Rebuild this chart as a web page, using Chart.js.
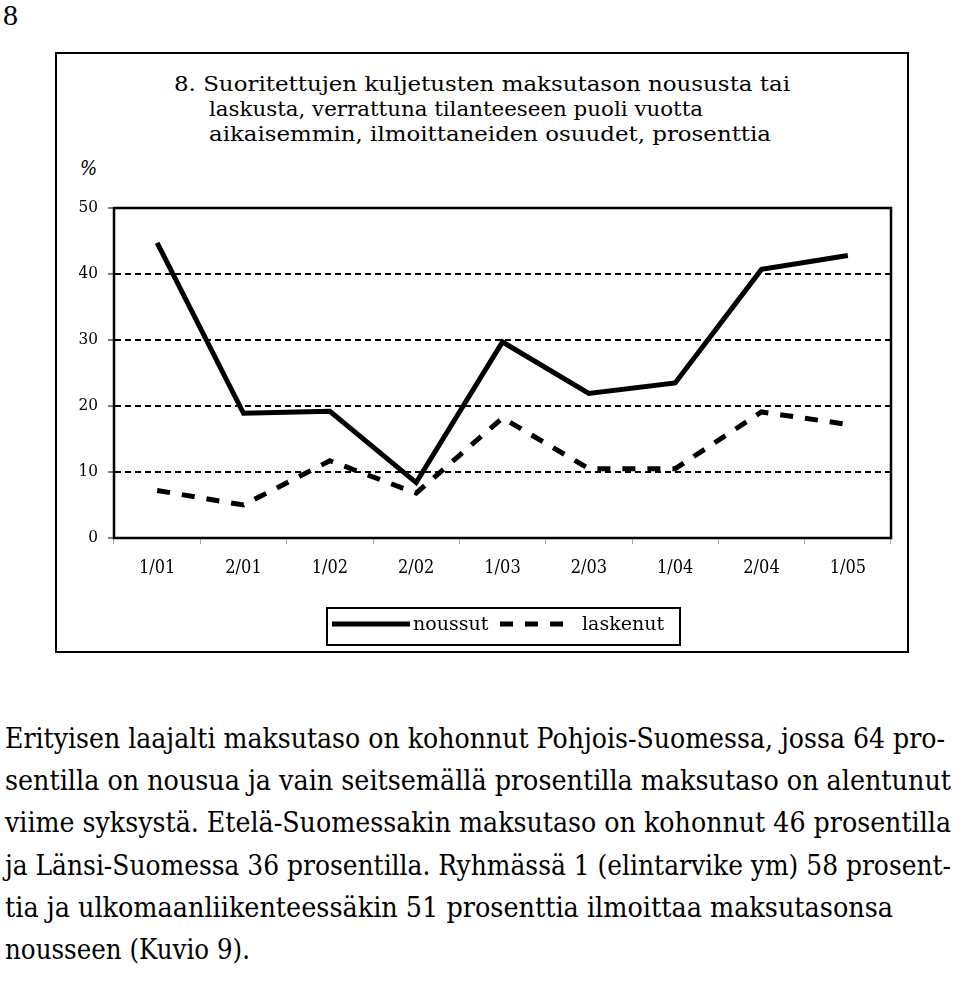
<!DOCTYPE html>
<html>
<head>
<meta charset="utf-8">
<script src="https://cdn.jsdelivr.net/npm/chart.js@4/dist/chart.umd.min.js"></script>
<style>
  html, body { margin: 0; padding: 0; background: #fff; }
  body { width: 960px; height: 982px; position: relative; overflow: hidden; font-family: "DejaVu Serif Condensed", "DejaVu Serif", serif; color: #000; }
  .abs { position: absolute; white-space: nowrap; }
  .fit { display: inline-block; transform-origin: 0 0; }
  #pageNo { left: 3px; top: 0; font: 30px/30px "Liberation Serif", serif; }
  #box { position: absolute; left: 55px; top: 52px; width: 850px; height: 597px; border: 2px solid #000; }
  .title { font-size: 21px; line-height: 25px; }
  #percent { left: 80px; top: 156px; font-size: 20px; line-height: 24px; font-style: italic; }
  #wrap { position: absolute; left: 0; top: 180px; width: 960px; height: 470px; }
  .para { left: 5px; font-size: 27px; line-height: 42px; }
</style>
</head>
<body>
<div id="pageNo" class="abs">8</div>
<div id="box"></div>

<div class="abs title" style="left:174px; top:72px"><span class="fit" data-w="616">8. Suoritettujen kuljetusten maksutason noususta tai</span></div>
<div class="abs title" style="left:209px; top:97px"><span class="fit" data-w="494">laskusta, verrattuna tilanteeseen puoli vuotta</span></div>
<div class="abs title" style="left:209px; top:122px"><span class="fit" data-w="562">aikaisemmin, ilmoittaneiden osuudet, prosenttia</span></div>
<div id="percent" class="abs">%</div>

<div id="wrap"><canvas id="chart" width="960" height="470"></canvas></div>

<div class="abs para" style="top:718px"><span class="fit" data-w="940">Erityisen laajalti maksutaso on kohonnut Pohjois-Suomessa, jossa 64 pro-</span></div>
<div class="abs para" style="top:760px"><span class="fit" data-w="946">sentilla on nousua ja vain seitsemällä prosentilla maksutaso on alentunut</span></div>
<div class="abs para" style="top:802px"><span class="fit" data-w="946">viime syksystä. Etelä-Suomessakin maksutaso on kohonnut 46 prosentilla</span></div>
<div class="abs para" style="top:845px"><span class="fit" data-w="946">ja Länsi-Suomessa 36 prosentilla. Ryhmässä 1 (elintarvike ym) 58 prosent-</span></div>
<div class="abs para" style="top:887px"><span class="fit" data-w="888">tia ja ulkomaanliikenteessäkin 51 prosenttia ilmoittaa maksutasonsa</span></div>
<div class="abs para" style="top:929px"><span class="fit" data-w="245">nousseen (Kuvio 9).</span></div>

<script>
const categories = ["1/01", "2/01", "1/02", "2/02", "1/03", "2/03", "1/04", "2/04", "1/05"];
const noussut = [44.7, 18.9, 19.2, 8.4, 29.7, 21.9, 23.5, 40.7, 42.8];
const laskenut = [7.2, 5.0, 11.7, 6.8, 18.2, 10.5, 10.5, 19.1, 17.2];
const yTicks = [0, 10, 20, 30, 40, 50];

const serif = "'DejaVu Serif Condensed', 'DejaVu Serif', serif";

// squeeze / stretch text lines to the widths seen in the scan
document.querySelectorAll(".fit").forEach((el) => {
  const nat = el.getBoundingClientRect().width;
  el.style.transform = "scaleX(" + el.dataset.w / nat + ")";
});

// solid frame round the plot area
const plotFrame = {
  id: "plotFrame",
  beforeDatasetsDraw(chart) {
    const { ctx, chartArea: a } = chart;
    ctx.save();
    ctx.lineWidth = 2.5;
    ctx.strokeStyle = "#000";
    ctx.strokeRect(a.left, a.top, a.right - a.left, a.bottom - a.top);
    ctx.restore();
  }
};

// legend in a box under the axis, line samples taken from the datasets
const legendSlots = [
  { from: 332, to: 410, text: 413 },
  { from: 500, to: 566, text: 582 }
];
const boxedLegend = {
  id: "boxedLegend",
  afterDraw(chart) {
    const ctx = chart.ctx;
    const cy = 444;
    ctx.save();
    ctx.lineWidth = 2;
    ctx.strokeStyle = "#000";
    ctx.strokeRect(327, 428, 353, 37);
    ctx.font = "19px 'DejaVu Serif', serif";
    ctx.textBaseline = "middle";
    ctx.fillStyle = "#000";
    chart.data.datasets.forEach((ds, i) => {
      const s = legendSlots[i];
      ctx.lineWidth = ds.borderWidth;
      ctx.setLineDash(ds.borderDash || []);
      ctx.lineCap = "butt";
      ctx.beginPath();
      ctx.moveTo(s.from, cy);
      ctx.lineTo(s.to, cy);
      ctx.stroke();
      ctx.setLineDash([]);
      ctx.fillText(ds.label, s.text, cy + 1);
    });
    ctx.restore();
  }
};

new Chart(document.getElementById("chart"), {
  type: "line",
  data: {
    labels: categories,
    datasets: [
      {
        label: "noussut",
        data: noussut,
        borderColor: "#000",
        borderWidth: 5,
        borderCapStyle: "butt",
        pointRadius: 0,
        tension: 0,
        fill: false
      },
      {
        label: "laskenut",
        data: laskenut,
        borderColor: "#000",
        borderWidth: 5,
        borderDash: [13, 12],
        borderCapStyle: "butt",
        pointRadius: 0,
        tension: 0,
        fill: false
      }
    ]
  },
  options: {
    responsive: false,
    animation: false,
    devicePixelRatio: 1,
    layout: { padding: { left: 0, right: 69, top: 28, bottom: 62 } },
    plugins: {
      legend: { display: false },
      tooltip: { enabled: false }
    },
    scales: {
      x: {
        offset: true,
        ticks: { padding: 14, color: "#000", font: { family: serif, size: 18 }, maxRotation: 0, autoSkip: false },
        grid: { drawOnChartArea: false, offset: true, tickLength: 6, tickWidth: 1, tickColor: "#aaa" },
        border: { display: false },
        afterFit: (s) => { s.height = 50; }
      },
      y: {
        min: 0,
        max: 50,
        afterBuildTicks: (s) => { s.ticks = yTicks.map((v) => ({ value: v })); },
        ticks: { padding: 10, color: "#000", font: { family: serif, size: 17 } },
        grid: { color: "#000", lineWidth: 2, tickLength: 6, tickWidth: 1, tickColor: "#000" },
        border: { display: true, color: "#000", width: 2, dash: [6, 4] },
        afterFit: (s) => { s.width = 114; }
      }
    }
  },
  plugins: [plotFrame, boxedLegend]
});
</script>
</body>
</html>
